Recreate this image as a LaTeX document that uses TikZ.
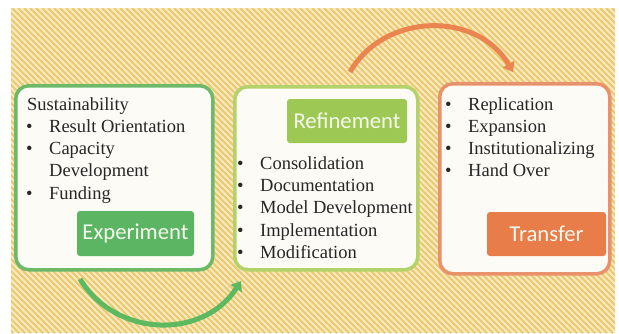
\documentclass[tikz,border=0pt]{standalone}
\usepackage{fontspec}
\setmainfont{Liberation Serif}
\newfontfamily\itemfont{Liberation Serif}
\newfontfamily\labelfont{Carlito}
\usetikzlibrary{arrows.meta}

\definecolor{stripelight}{HTML}{F8ECC8}
\definecolor{stripedark}{HTML}{EDCB74}
\definecolor{panelfill}{HTML}{FCFBF6}
\definecolor{expborder}{HTML}{6CBA68}
\definecolor{expfill}{HTML}{5CB563}
\definecolor{refborder}{HTML}{B3D26A}
\definecolor{reffill}{HTML}{9DC853}
\definecolor{trborder}{HTML}{E8916A}
\definecolor{trfill}{HTML}{E87D4A}
\definecolor{orangearc}{HTML}{EB8550}
\definecolor{greenarc}{HTML}{5DB960}
\definecolor{labeltext}{HTML}{F6F9EE}

\newcommand\itembullet{\llap{\textbullet\hspace{16.5pt}}}

\tikzset{
  panel/.style={draw=#1, line width=3.5pt, fill=panelfill, rounded corners=13pt,
    anchor=north west, inner sep=0pt},
  tag/.style={fill=#1, rounded corners=3pt, inner sep=0pt,
    font=\labelfont\fontsize{22.7}{26}\selectfont, text=labeltext},
  itemline/.style={anchor=base west, inner sep=0pt,
    font=\itemfont\fontsize{18.5}{22.3}\selectfont, text=black!85},
  cyclearrow/.style={line width=5pt, draw=#1,
    -{Triangle[length=9pt,width=13pt]}},
}

\begin{document}
\begin{tikzpicture}[x=1pt, y=-1pt]
\useasboundingbox (0,0) rectangle (619,333);

% striped backdrop
\fill[stripelight] (11,8) rectangle (615,333);
\begin{scope}
  \clip (11,8) rectangle (615,333);
  \foreach \s in {-330,-324,...,620}
    \draw[stripedark, line width=2.2pt] (\s,8) -- ++(325,325);
\end{scope}

% panels
\node[panel=expborder, minimum width=197pt, minimum height=184pt] (exp) at (14,84) {};
\node[panel=refborder, minimum width=183pt, minimum height=183pt] (ref) at (233,85) {};
\node[panel=trborder,  minimum width=170pt, minimum height=190pt] (tr)  at (438,82) {};

% stage tags
\node[tag=expfill, minimum width=117pt, minimum height=45pt] (exptag) at (135.5,233.5) {Experiment};
\node[tag=reffill, minimum width=120pt, minimum height=44pt] (reftag) at (347,121) {Refinement};
\node[tag=trfill,  minimum width=119pt, minimum height=44pt] (trtag)  at (546.5,234) {Transfer};

% Experiment contents
\node[itemline] (e0) at (27,110)   {Sustainability};
\node[itemline] (e1) at (49,132.3) {\itembullet Result Orientation};
\node[itemline] (e2) at (49,154.6) {\itembullet Capacity};
\node[itemline] (e3) at (49,176.9) {Development};
\node[itemline] (e4) at (49,199.2) {\itembullet Funding};

% Refinement contents
\node[itemline] (r1) at (260,169.3) {\itembullet Consolidation};
\node[itemline] (r2) at (260,191.6) {\itembullet Documentation};
\node[itemline] (r3) at (260,213.9) {\itembullet Model Development};
\node[itemline] (r4) at (260,236.2) {\itembullet Implementation};
\node[itemline] (r5) at (260,258.5) {\itembullet Modification};

% Transfer contents
\node[itemline] (t1) at (468,110)   {\itembullet Replication};
\node[itemline] (t2) at (468,132.3) {\itembullet Expansion};
\node[itemline] (t3) at (468,154.6) {\itembullet Institutionalizing};
\node[itemline] (t4) at (468,176.9) {\itembullet Hand Over};

% cycle arrows
\coordinate (gstart) at (80,279);
\coordinate (gend)   at (241,281);
\coordinate (ostart) at (350,72);
\coordinate (oend)   at (513,72);
\draw[cyclearrow=greenarc]  (gstart) to[bend right=58, looseness=1.1] (gend);
\draw[cyclearrow=orangearc] (ostart) to[bend left=60, looseness=1.1] (oend);
\end{tikzpicture}
\end{document}
